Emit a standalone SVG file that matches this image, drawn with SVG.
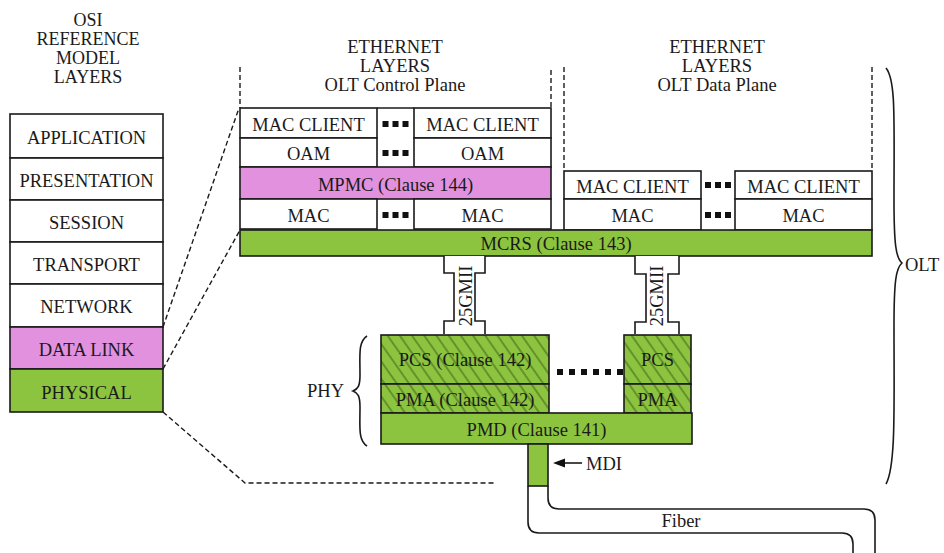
<svg xmlns="http://www.w3.org/2000/svg" width="944" height="553" viewBox="0 0 944 553">
<defs>
<pattern id="hatch" patternUnits="userSpaceOnUse" width="10" height="10" patternTransform="rotate(-35)">
<rect x="0" y="0" width="10" height="10" fill="#8CC43F"/>
<line x1="5" y1="-1" x2="5" y2="11" stroke="#3d5f18" stroke-width="1"/>
</pattern>
<style>
text{font-family:"Liberation Serif","Times New Roman",serif;font-size:18.5px;fill:#1a1a1a;text-anchor:middle}
.t{font-size:18px}
.b{stroke:#1a1a1a;stroke-width:1.6;fill:#fff}
.g{stroke:#1a1a1a;stroke-width:1.6;fill:#8CC43F}
.h{stroke:#1a1a1a;stroke-width:1.6;fill:url(#hatch)}
.p{stroke:#1a1a1a;stroke-width:1.6;fill:#E291DE}
.d{stroke:#1a1a1a;stroke-width:1.4;fill:none;stroke-dasharray:5 3}
.l{stroke:#1a1a1a;stroke-width:1.6;fill:none}
.dot{fill:#111}
.lt{text-anchor:start}
</style>
</defs>
<rect width="944" height="553" fill="#fff"/>

<g id="osi-title">
<text class="t" x="88" y="26">OSI</text>
<text class="t" x="88" y="45">REFERENCE</text>
<text class="t" x="88" y="64">MODEL</text>
<text class="t" x="88" y="83">LAYERS</text>
</g>
<g id="osi-application"><rect class="b" x="10" y="114" width="153" height="44"/><text x="86.5" y="144">APPLICATION</text></g>
<g id="osi-presentation"><rect class="b" x="10" y="158" width="153" height="42"/><text x="86.5" y="187">PRESENTATION</text></g>
<g id="osi-session"><rect class="b" x="10" y="200" width="153" height="42"/><text x="86.5" y="229">SESSION</text></g>
<g id="osi-transport"><rect class="b" x="10" y="242" width="153" height="42"/><text x="86.5" y="271">TRANSPORT</text></g>
<g id="osi-network"><rect class="b" x="10" y="284" width="153" height="43"/><text x="86.5" y="313">NETWORK</text></g>
<g id="osi-datalink"><rect class="p" x="10" y="327" width="153" height="42"/><text x="86.5" y="356">DATA LINK</text></g>
<g id="osi-physical"><rect class="g" x="10" y="369" width="153" height="43"/><text x="86.5" y="399">PHYSICAL</text></g>

<g id="cp-title">
<text x="395" y="53">ETHERNET</text>
<text x="395" y="72">LAYERS</text>
<text x="395" y="91">OLT Control Plane</text>
</g>
<g id="dp-title">
<text x="717" y="53">ETHERNET</text>
<text x="717" y="72">LAYERS</text>
<text x="717" y="91">OLT Data Plane</text>
</g>

<g id="cp-macclient-1"><rect class="b" x="240" y="108" width="137" height="30"/><text x="308.5" y="131">MAC CLIENT</text></g>
<g id="cp-macclient-2"><rect class="b" x="414" y="108" width="137" height="30"/><text x="482.5" y="131">MAC CLIENT</text></g>
<g id="cp-oam-1"><rect class="b" x="240" y="138" width="137" height="29"/><text x="308.5" y="160">OAM</text></g>
<g id="cp-oam-2"><rect class="b" x="414" y="138" width="137" height="29"/><text x="482.5" y="160">OAM</text></g>
<g id="cp-mpmc"><rect class="p" x="240" y="167" width="311" height="32"/><text x="395.5" y="191">MPMC (Clause 144)</text></g>
<g id="cp-mac-1"><rect class="b" x="240" y="199" width="137" height="30"/><text x="308.5" y="221.5">MAC</text></g>
<g id="cp-mac-2"><rect class="b" x="414" y="199" width="137" height="30"/><text x="482.5" y="221.5">MAC</text></g>
<g id="cp-dots">
<line class="l" x1="377" y1="108" x2="414" y2="108"/>
<rect class="dot" x="382.5" y="121" width="6" height="6"/><rect class="dot" x="392.5" y="121" width="6" height="6"/><rect class="dot" x="402.5" y="121" width="6" height="6"/>
<rect class="dot" x="382.5" y="150" width="6" height="6"/><rect class="dot" x="392.5" y="150" width="6" height="6"/><rect class="dot" x="402.5" y="150" width="6" height="6"/>
<rect class="dot" x="382.5" y="212" width="6" height="6"/><rect class="dot" x="392.5" y="212" width="6" height="6"/><rect class="dot" x="402.5" y="212" width="6" height="6"/>
</g>

<g id="dp-macclient-1"><rect class="b" x="564" y="171" width="137" height="28"/><text x="632.5" y="192.5">MAC CLIENT</text></g>
<g id="dp-macclient-2"><rect class="b" x="735" y="171" width="137" height="28"/><text x="803.5" y="192.5">MAC CLIENT</text></g>
<g id="dp-mac-1"><rect class="b" x="564" y="199" width="137" height="31"/><text x="632.5" y="221.5">MAC</text></g>
<g id="dp-mac-2"><rect class="b" x="735" y="199" width="137" height="31"/><text x="803.5" y="221.5">MAC</text></g>
<g id="dp-dots">
<rect class="dot" x="705" y="182" width="6" height="6"/><rect class="dot" x="715" y="182" width="6" height="6"/><rect class="dot" x="725" y="182" width="6" height="6"/>
<rect class="dot" x="705" y="212" width="6" height="6"/><rect class="dot" x="715" y="212" width="6" height="6"/><rect class="dot" x="725" y="212" width="6" height="6"/>
</g>

<g id="mcrs"><rect class="g" x="240" y="230" width="632" height="26"/><text x="556" y="250">MCRS (Clause 143)</text></g>

<g id="pcs-1"><rect class="h" x="381" y="335" width="168" height="49"/><text x="465" y="366">PCS (Clause 142)</text></g>
<g id="pma-1"><rect class="h" x="381" y="384" width="168" height="29"/><text x="465" y="405.5">PMA (Clause 142)</text></g>
<g id="pcs-2"><rect class="h" x="624" y="335" width="67" height="49"/><text x="657.5" y="366">PCS</text></g>
<g id="pma-2"><rect class="h" x="624" y="384" width="67" height="29"/><text x="657.5" y="405.5">PMA</text></g>
<g id="pmd"><rect class="g" x="381" y="413" width="311" height="31"/><text x="536.5" y="435.5">PMD (Clause 141)</text></g>
<g id="phy-dots">
<rect class="dot" x="557" y="369" width="6" height="6"/><rect class="dot" x="569" y="369" width="6" height="6"/><rect class="dot" x="581" y="369" width="6" height="6"/><rect class="dot" x="593" y="369" width="6" height="6"/><rect class="dot" x="605" y="369" width="6" height="6"/><rect class="dot" x="617" y="369" width="6" height="6"/>
</g>

<g id="phy-brace">
<path class="l" d="M367,336 C358,342 360,355 360,375 C360,386 358,389 353,391 C358,393 360,396 360,407 C360,427 358,440 367,446"/>
<text class="lt" x="307" y="397">PHY</text>
</g>
<g id="olt-brace">
<path class="l" d="M886,68 C896,80 894,120 894,200 C894,245 896,258 902,263 C896,268 894,281 894,326 C894,406 896,466 886,484"/>
<text class="lt" x="905" y="271">OLT</text>
</g>

<g id="mdi">
<rect class="g" x="528" y="444" width="20" height="42"/>
<line class="l" x1="582" y1="463" x2="562" y2="463"/>
<path d="M553,463 L565,458.5 L565,467.5 Z" fill="#111"/>
<text class="lt" x="586" y="470">MDI</text>
</g>

<g id="connectors">
<path class="d" d="M240,67 L240,108"/>
<path class="d" d="M551,70 L551,108"/>
<path class="d" d="M564,67 L564,171"/>
<path class="d" d="M872,67 L872,171"/>
<path class="d" d="M163,327 L239,108"/>
<path class="d" d="M163,369 L240,230"/>
<path class="d" d="M163,412 L245,483 L494,483"/>
<g id="gmii-1">
<path d="M444,256 L444,273 L454,273 L454,321 L444,321 L444,334 L485,334 L485,321 L475,321 L475,273 L485,273 L485,256 Z" fill="#fff" stroke="none"/>
<path class="l" d="M444,256 L444,273 L454,273 L454,321 L444,321 L444,334"/>
<path class="l" d="M485,256 L485,273 L475,273 L475,321 L485,321 L485,334"/>
<text x="472" y="296" transform="rotate(-90 472 296)">25GMII</text>
</g>
<g id="gmii-2">
<path d="M635,256 L635,274 L646,274 L646,322 L635,322 L635,334 L679,334 L679,322 L668,322 L668,274 L679,274 L679,256 Z" fill="#fff" stroke="none"/>
<path class="l" d="M635,256 L635,274 L646,274 L646,322 L635,322 L635,334"/>
<path class="l" d="M679,256 L679,274 L668,274 L668,322 L679,322 L679,334"/>
<text x="663" y="296" transform="rotate(-90 663 296)">25GMII</text>
</g>
<g id="fiber">
<path class="l" d="M548,486 L548,498 Q548,509 559,509 L864,509 Q875,509 875,520 L875,553"/>
<path class="l" d="M528,486 L528,522 Q528,533 539,533 L842,533 Q853,533 853,544 L853,553"/>
<text x="681" y="527">Fiber</text>
</g>
</g>
</svg>
